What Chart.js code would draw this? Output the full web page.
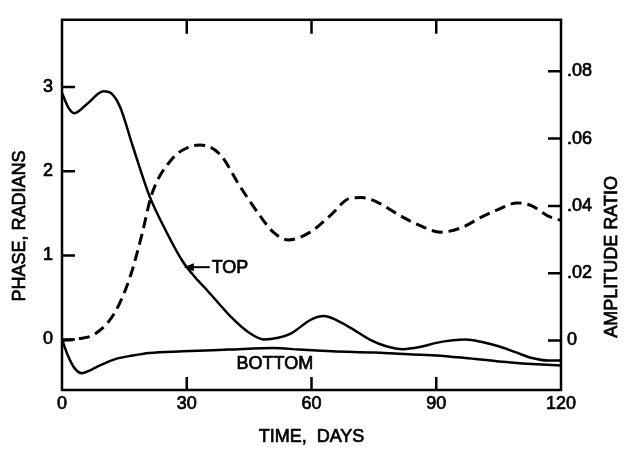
<!DOCTYPE html>
<html>
<head>
<meta charset="utf-8">
<script src="https://cdn.jsdelivr.net/npm/chart.js@4.4.1/dist/chart.umd.min.js"></script>
<style>
  html, body { margin: 0; padding: 0; background: #fff; }
  #wrap { width: 628px; height: 450px; }
</style>
</head>
<body>
<div id="wrap"><canvas id="phaseChart" width="628" height="450"></canvas></div>
<script>
// tick values
const dayTicks = [0, 30, 60, 90, 120];
const phaseTicks = [0, 1, 2, 3];
const ampTicks = [0, 0.02, 0.04, 0.06, 0.08];

// TOP phase curve (radians)
const topDays = [0, 1.5, 3, 6, 10, 12, 14, 17, 21, 25, 29, 32, 35, 41, 45, 48.5, 52, 55, 60, 63, 66, 70, 74, 78, 82, 86, 90, 94, 97, 101, 105, 109, 113, 117, 120];
const topPhase = [2.93, 2.76, 2.69, 2.80, 2.95, 2.92, 2.76, 2.30, 1.71, 1.29, 0.93, 0.74, 0.58, 0.25, 0.08, 0.00, 0.02, 0.07, 0.24, 0.28, 0.23, 0.12, 0.00, -0.08, -0.115, -0.09, -0.04, -0.01, 0.00, -0.03, -0.08, -0.15, -0.22, -0.25, -0.25];

// BOTTOM phase curve (radians)
const bottomDays = [0, 1.5, 3, 4.8, 7, 9, 13, 17, 21, 29, 40, 51, 57, 65, 75, 81, 90, 97, 105, 113, 120];
const bottomPhase = [0.0, -0.2, -0.34, -0.40, -0.36, -0.31, -0.23, -0.19, -0.16, -0.14, -0.12, -0.10, -0.12, -0.14, -0.155, -0.17, -0.19, -0.22, -0.26, -0.29, -0.31];

// amplitude ratio (dashed)
const ampDays = [0, 4, 8, 12.7, 16.4, 19.2, 21.6, 26.5, 30, 33.2, 38, 42.8, 47.6, 50.8, 54.5, 59.7, 64.5, 69.3, 72, 76, 81.3, 86, 91, 96, 100.6, 105, 109.5, 113, 116.7, 120];
const ampRatio = [0.0, 0.0005, 0.002, 0.0083, 0.019, 0.0314, 0.0435, 0.054, 0.0572, 0.0581, 0.0553, 0.0458, 0.0371, 0.0322, 0.0299, 0.0322, 0.0371, 0.0423, 0.0425, 0.041, 0.0371, 0.0342, 0.0322, 0.0335, 0.0365, 0.039, 0.0409, 0.040, 0.0371, 0.0357];

// curve labels
const topLabel = { text: 'TOP', day: 36, phase: 0.86, arrowTo: 29.3 };
const bottomLabel = { text: 'BOTTOM', day: 51.2, phase: -0.29 };

const FONT = '"Liberation Sans", Arial, Helvetica, sans-serif';
const TEXT_STROKE = 0.7;

function pts(xs, ys) {
    return xs.map((x, i) => ({ x: x, y: ys[i] }));
}

function heavyText(ctx, text, x, y) {
    ctx.fillText(text, x, y);
    ctx.strokeText(text, x, y);
}

// marco, marcas internas, títulos dos eixos e rótulos das curvas
const framePlugin = {
    id: 'frame',
    afterDatasetsDraw(chart) {
        const ctx = chart.ctx;
        const a = chart.chartArea;
        const x = chart.scales.x, yp = chart.scales.yPhase, ya = chart.scales.yAmp;
        ctx.save();
        ctx.strokeStyle = '#000';
        ctx.lineWidth = 2.5;
        ctx.strokeRect(a.left, a.top, a.right - a.left, a.bottom - a.top);

        ctx.beginPath();
        dayTicks.slice(1, -1).forEach(d => {
            const px = x.getPixelForValue(d);
            ctx.moveTo(px, a.bottom); ctx.lineTo(px, a.bottom - 13);
            ctx.moveTo(px, a.top); ctx.lineTo(px, a.top + 14);
        });
        phaseTicks.forEach(v => {
            const py = yp.getPixelForValue(v);
            ctx.moveTo(a.left, py); ctx.lineTo(a.left + 13, py);
        });
        ampTicks.forEach(v => {
            const py = ya.getPixelForValue(v);
            ctx.moveTo(a.right, py); ctx.lineTo(a.right - 13, py);
        });
        ctx.stroke();

        // títulos dos eixos
        ctx.fillStyle = '#000';
        ctx.lineWidth = TEXT_STROKE;
        ctx.font = '18px ' + FONT;
        ctx.textAlign = 'center';
        ctx.textBaseline = 'middle';
        const midX = (a.left + a.right) / 2;
        const midY = (a.top + a.bottom) / 2;
        heavyText(ctx, 'TIME,  DAYS', midX, 437);
        ctx.save();
        ctx.translate(20, midY + 21);
        ctx.rotate(-Math.PI / 2);
        heavyText(ctx, 'PHASE, RADIANS', 0, 0);
        ctx.restore();
        ctx.save();
        ctx.translate(612, midY + 52);
        ctx.rotate(-Math.PI / 2);
        heavyText(ctx, 'AMPLITUDE RATIO', 0, 0);
        ctx.restore();

        // rótulo TOP com seta
        const ty = yp.getPixelForValue(topLabel.phase);
        const tx = x.getPixelForValue(topLabel.day);
        const ax = x.getPixelForValue(topLabel.arrowTo);
        ctx.lineWidth = 2;
        ctx.beginPath();
        ctx.moveTo(tx - 2, ty); ctx.lineTo(ax + 6, ty);
        ctx.stroke();
        ctx.beginPath();
        ctx.moveTo(ax, ty); ctx.lineTo(ax + 10, ty - 4); ctx.lineTo(ax + 10, ty + 4);
        ctx.closePath();
        ctx.fill();
        ctx.lineWidth = TEXT_STROKE;
        ctx.textAlign = 'left';
        heavyText(ctx, topLabel.text, tx, ty + 1);

        ctx.textAlign = 'center';
        heavyText(ctx, bottomLabel.text, x.getPixelForValue(bottomLabel.day), yp.getPixelForValue(bottomLabel.phase));
        ctx.restore();
    }
};

const tickStyle = {
    color: '#000',
    font: { family: FONT, size: 18 },
    textStrokeColor: '#000',
    textStrokeWidth: TEXT_STROKE
};

new Chart(document.getElementById('phaseChart').getContext('2d'), {
    type: 'line',
    data: {
        datasets: [
            {
                label: 'TOP',
                data: pts(topDays, topPhase),
                yAxisID: 'yPhase',
                borderColor: '#000',
                borderWidth: 2.5,
                pointRadius: 0,
                cubicInterpolationMode: 'monotone',
                fill: false
            },
            {
                label: 'BOTTOM',
                data: pts(bottomDays, bottomPhase),
                yAxisID: 'yPhase',
                borderColor: '#000',
                borderWidth: 2.5,
                pointRadius: 0,
                cubicInterpolationMode: 'monotone',
                fill: false
            },
            {
                label: 'AMPLITUDE RATIO',
                data: pts(ampDays, ampRatio),
                yAxisID: 'yAmp',
                borderColor: '#000',
                borderWidth: 3,
                borderDash: [11, 6],
                pointRadius: 0,
                cubicInterpolationMode: 'monotone',
                fill: false
            }
        ]
    },
    options: {
        responsive: false,
        animation: false,
        layout: { padding: { top: 8, left: 0, right: 0, bottom: 0 } },
        plugins: {
            legend: { display: false },
            tooltip: { enabled: false }
        },
        scales: {
            x: {
                type: 'linear',
                position: 'bottom',
                min: 0,
                max: 120,
                afterBuildTicks: s => { s.ticks = dayTicks.map(v => ({ value: v })); },
                afterFit: s => { s.height = 60; },
                grid: { display: false, drawTicks: false },
                border: { display: false },
                ticks: Object.assign({ padding: 3, maxRotation: 0 }, tickStyle)
            },
            yPhase: {
                type: 'linear',
                position: 'left',
                min: -0.6,
                max: 3.8,
                afterBuildTicks: s => { s.ticks = phaseTicks.map(v => ({ value: v })); },
                afterFit: s => { s.width = 62; },
                grid: { display: false, drawTicks: false },
                border: { display: false },
                ticks: Object.assign({ padding: 9, callback: v => String(v) }, tickStyle)
            },
            yAmp: {
                type: 'linear',
                position: 'right',
                min: -0.0147,
                max: 0.0953,
                afterBuildTicks: s => { s.ticks = ampTicks.map(v => ({ value: v })); },
                afterFit: s => { s.width = 67; },
                grid: { display: false, drawTicks: false },
                border: { display: false },
                ticks: Object.assign({
                    padding: 6,
                    callback: v => v === 0 ? '0' : v.toFixed(2).replace(/^0/, '')
                }, tickStyle)
            }
        }
    },
    plugins: [framePlugin]
});
</script>
</body>
</html>
